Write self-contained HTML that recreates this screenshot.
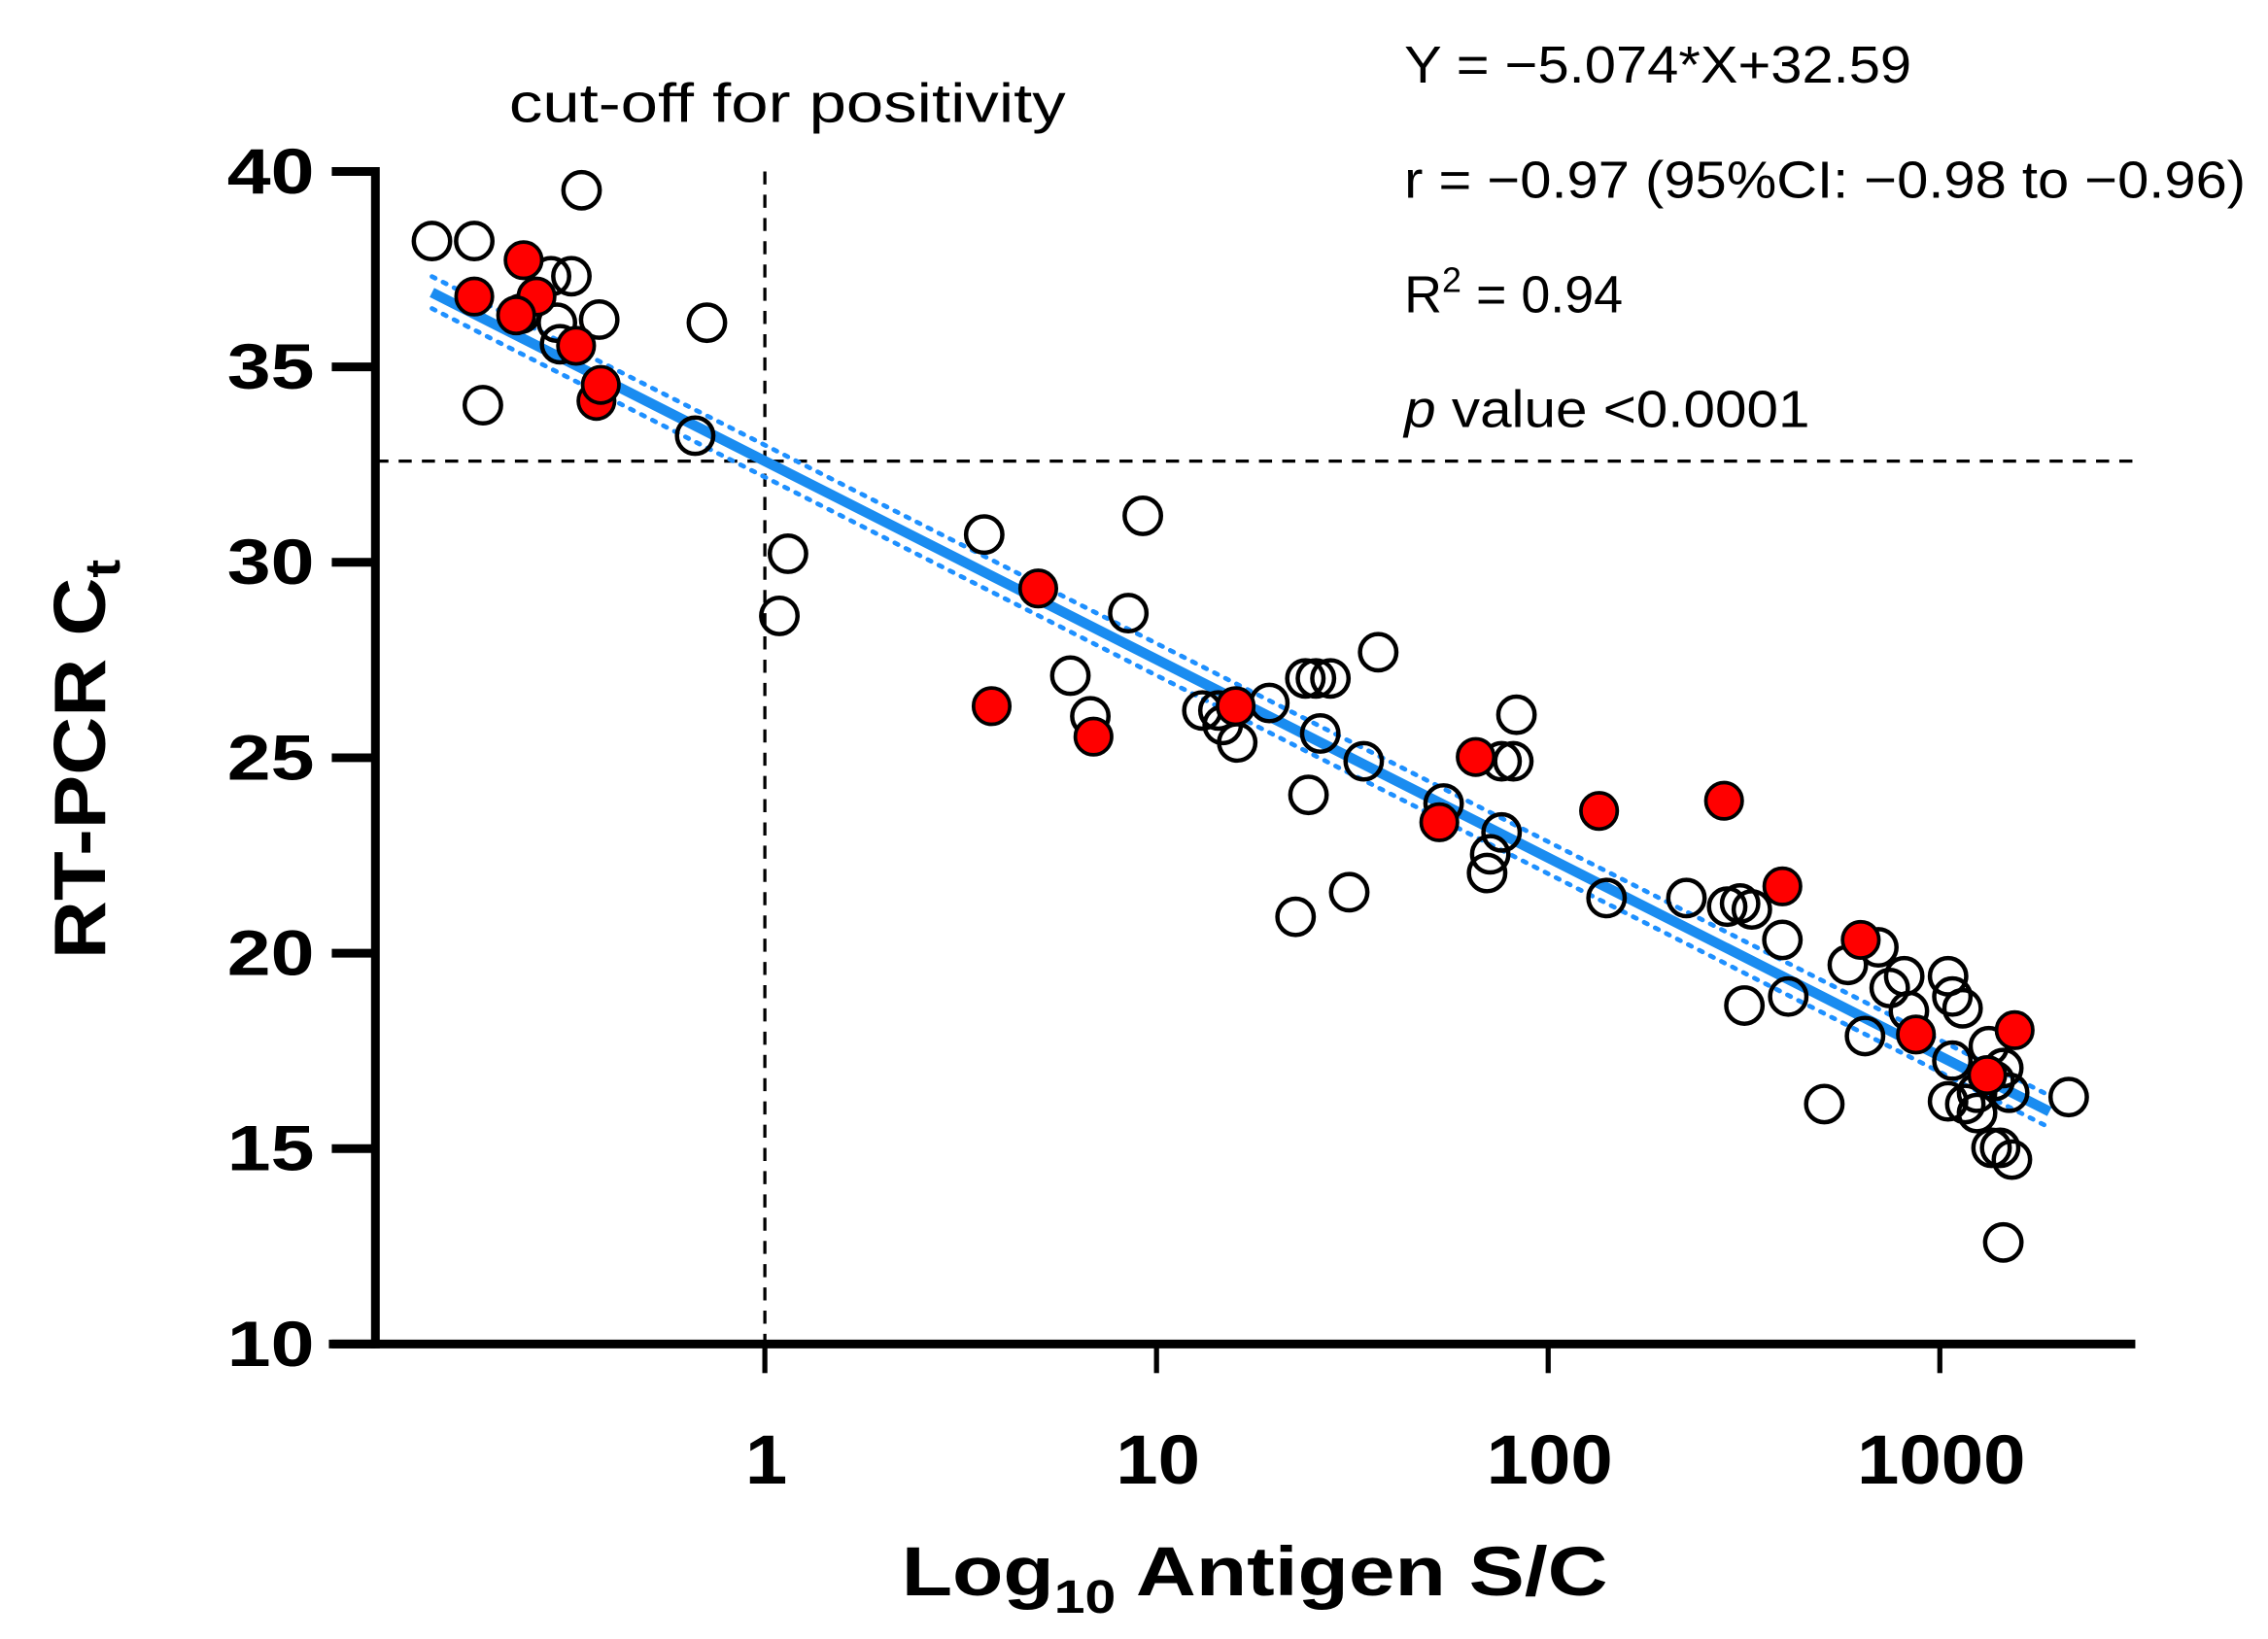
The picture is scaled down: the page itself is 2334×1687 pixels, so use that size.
<!DOCTYPE html>
<html><head><meta charset="utf-8"><style>
html,body{margin:0;padding:0;background:#fff;}
svg{display:block;}
text{font-family:"Liberation Sans",Arial,sans-serif;}
</style></head><body>
<svg id="chart" width="2334" height="1687" viewBox="0 0 1560 1128" xmlns="http://www.w3.org/2000/svg">
<g id="plot"></g>
</svg>
<script>
const xTicks = [0, 1, 2, 3];
const xTickLabels = ["1", "10", "100", "1000"];
const yTicks = [40, 35, 30, 25, 20, 15, 10];
const openLogX = [-0.850,-0.742,-0.468,-0.546,-0.494,-0.623,-0.531,-0.423,-0.720,-0.178,-0.148,-0.523,
0.059,0.037,0.560,0.965,0.928,0.780,0.831,1.117,1.158,1.169,1.206,1.288,1.380,1.407,1.444,1.566,1.418,1.529,1.388,1.355,1.492,1.733,1.881,1.919,1.911,1.881,1.852,1.844,
2.149,2.353,2.457,2.490,2.520,2.501,2.598,2.613,2.705,2.765,2.809,2.843,2.872,2.909,2.921,3.021,3.032,3.058,3.032,3.021,3.065,3.095,3.125,3.140,3.162,3.177,3.132,3.154,3.184,3.162,3.329,3.095];
const openCt = [38.22,38.22,39.52,37.32,37.32,36.36,36.13,36.21,34.02,33.24,36.13,35.58,
30.22,28.63,30.71,31.19,28.70,27.10,26.06,26.21,26.21,25.84,25.39,26.40,27.03,27.03,27.03,27.70,25.62,24.91,24.05,20.93,21.56,23.83,24.91,26.10,24.91,23.09,22.53,22.05,
21.41,21.41,21.19,21.27,21.12,18.66,20.34,18.89,16.14,19.70,17.88,20.15,19.11,19.41,18.52,19.41,18.89,18.59,17.25,16.21,16.14,15.91,17.62,16.73,17.06,16.43,15.02,15.02,14.72,12.60,16.32,16.43];
const redLogX = [-0.616,-0.742,-0.583,-0.635,-0.482,-0.430,-0.419,0.579,0.698,0.839,1.202,1.722,1.815,2.130,2.449,2.598,2.798,2.939,3.191,3.121];
const redCt = [37.73,36.80,36.80,36.32,35.54,34.13,34.54,26.32,29.33,25.54,26.32,23.35,25.02,23.64,23.90,21.71,20.34,17.92,18.03,16.88];
const slope = -5.074, intercept = 32.59, cutoffCt = 32.59, cutoffLogX = 0;
const fitRange = [-0.85, 3.28];

const NS = "http://www.w3.org/2000/svg";
const g = document.getElementById("plot");
function X(v){ return 526 + v * 269.5; }
function Y(v){ return 118 + (40 - v) * 26.9; }
function mk(tag, attrs, parent){ const e = document.createElementNS(NS, tag); for (const k in attrs) e.setAttribute(k, attrs[k]); (parent||g).appendChild(e); return e; }

let e = mk("line",{x1:258,x2:1468,y1:Y(cutoffCt),y2:Y(cutoffCt),stroke:"#000","stroke-width":2.2,"stroke-dasharray":"9,7"});


e = mk("line",{x1:X(cutoffLogX),x2:X(cutoffLogX),y1:118,y2:925,stroke:"#000","stroke-width":2.2,"stroke-dasharray":"9,7"});



const x0 = fitRange[0], x1 = fitRange[1];
e = mk("line",{x1:X(x0),x2:X(x1),y1:Y(slope*x0+intercept)-11,y2:Y(slope*x1+intercept)-11,stroke:"#1e90ff","stroke-width":3.2,"stroke-dasharray":"2.5,6","stroke-linecap":"round"});


e = mk("line",{x1:X(x0),x2:X(x1),y1:Y(slope*x0+intercept)+11,y2:Y(slope*x1+intercept)+11,stroke:"#1e90ff","stroke-width":3.2,"stroke-dasharray":"2.5,6","stroke-linecap":"round"});


e = mk("line",{x1:X(x0),x2:X(x1),y1:Y(slope*x0+intercept),y2:Y(slope*x1+intercept),stroke:"#1a8cf0","stroke-width":7});



for (let i = 0; i < openLogX.length; i++) {
  const c = mk("circle",{cx:X(openLogX[i]),cy:Y(openCt[i]),r:12.5,fill:"none",stroke:"#000","stroke-width":3});
  
  
}
for (let i = 0; i < redLogX.length; i++) {
  const c = mk("circle",{cx:X(redLogX[i]),cy:Y(redCt[i]),r:12.5,fill:"#ff0000",stroke:"#000","stroke-width":2.5});
  
  
}

e = mk("line",{x1:258,x2:258,y1:115,y2:928,stroke:"#000","stroke-width":6});


e = mk("line",{x1:226,x2:1469,y1:925,y2:925,stroke:"#000","stroke-width":6});


yTicks.forEach(v => {
  const t = mk("line",{x1:228,x2:258,y1:Y(v),y2:Y(v),stroke:"#000","stroke-width":6});
  
  
  const l = mk("text",{x:216,y:Y(v)+15,"text-anchor":"end","font-size":44,"font-weight":"bold",textLength:60,lengthAdjust:"spacingAndGlyphs"});
  l.textContent = String(v);
  
  
});
xTicks.forEach((v, i) => {
  const t = mk("line",{x1:X(v),x2:X(v),y1:925,y2:945,stroke:"#000","stroke-width":3.5});
  
  
  const lab = xTickLabels[i];
  const l = mk("text",{x:X(v)+1,y:1021,"text-anchor":"middle","font-size":48,"font-weight":"bold",textLength:lab.length*29,lengthAdjust:"spacingAndGlyphs"});
  l.textContent = lab;
  
  
});
</script>
<svg style="position:absolute;left:0;top:0" width="2334" height="1687" viewBox="0 0 1560 1128" xmlns="http://www.w3.org/2000/svg">
<text x="620" y="1098" font-size="48" font-weight="bold" style="font-family:'Liberation Sans',sans-serif" textLength="486" lengthAdjust="spacingAndGlyphs">Log<tspan font-size="32" dy="12">10</tspan><tspan dy="-12"> Antigen S/C</tspan></text>
<text transform="translate(72,660) rotate(-90)" font-size="50" font-weight="bold" style="font-family:'Liberation Sans',sans-serif" textLength="275" lengthAdjust="spacingAndGlyphs">RT-PCR C<tspan font-size="34" dy="10">t</tspan></text>
<text x="350" y="84" font-size="38" style="font-family:'Liberation Sans',sans-serif" textLength="383" lengthAdjust="spacingAndGlyphs">cut-off for positivity</text>
<text x="966" y="57" font-size="36" style="font-family:'Liberation Sans',sans-serif" textLength="349" lengthAdjust="spacingAndGlyphs">Y = −5.074*X+32.59</text>
<text x="966" y="136" font-size="36" style="font-family:'Liberation Sans',sans-serif" textLength="579" lengthAdjust="spacingAndGlyphs">r = −0.97 (95%CI: −0.98 to −0.96)</text>
<text x="966" y="215" font-size="36" style="font-family:'Liberation Sans',sans-serif">R<tspan font-size="24" dy="-14">2</tspan><tspan dy="14"> = 0.94</tspan></text>
<text x="966" y="294" font-size="36" style="font-family:'Liberation Sans',sans-serif" textLength="279" lengthAdjust="spacingAndGlyphs"><tspan font-style="italic">p</tspan> value &lt;0.0001</text>
</svg>
</body></html>
